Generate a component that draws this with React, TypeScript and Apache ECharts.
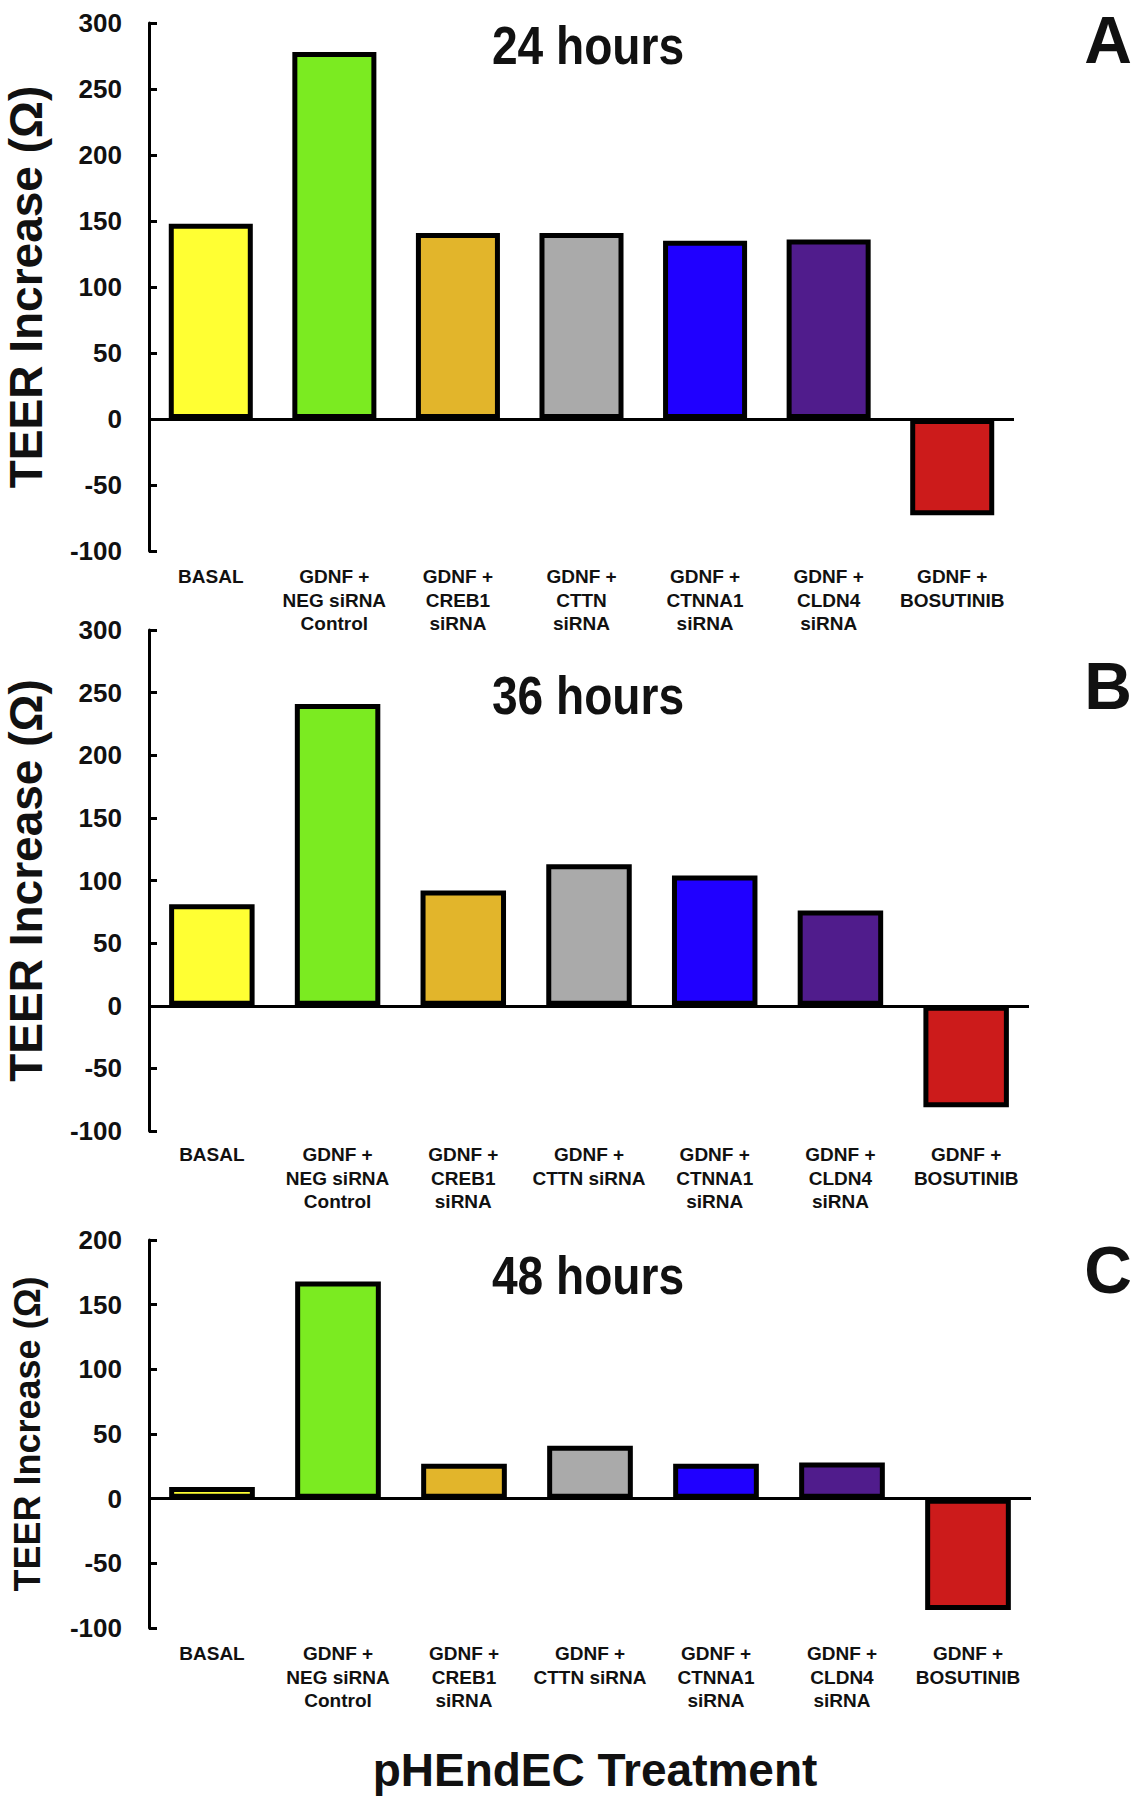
import React, { useEffect, useRef } from "react";
import * as echarts from "echarts";

const categoriesA = [
  "BASAL",
  "GDNF +\nNEG siRNA\nControl",
  "GDNF +\nCREB1\nsiRNA",
  "GDNF +\nCTTN\nsiRNA",
  "GDNF +\nCTNNA1\nsiRNA",
  "GDNF +\nCLDN4\nsiRNA",
  "GDNF +\nBOSUTINIB",
];
const categoriesBC = [
  "BASAL",
  "GDNF +\nNEG siRNA\nControl",
  "GDNF +\nCREB1\nsiRNA",
  "GDNF +\nCTTN siRNA",
  "GDNF +\nCTNNA1\nsiRNA",
  "GDNF +\nCLDN4\nsiRNA",
  "GDNF +\nBOSUTINIB",
];
const barColors = ["#FFFF33", "#7BEB21", "#E2B52B", "#AAAAAA", "#2000FF", "#501C8C", "#CC1B1B"];

const values24h = [148, 278, 141, 141, 135, 136, -73];
const values36h = [81, 241, 92, 113, 104, 76, -81];
const values48h = [9, 168, 27, 41, 27, 28, -86];

const panelTitles = ["24 hours", "36 hours", "48 hours"];
const panelLetters = ["A", "B", "C"];
const yAxisName = "TEER Increase (\u03A9)";
const xAxisName = "pHEndEC Treatment";

const SANS = "'Liberation Sans', Arial, Helvetica, sans-serif";

export default function App() {
  const ref = useRef<HTMLDivElement>(null);
  useEffect(() => {
    if (!ref.current) return;
    const chart = echarts.init(ref.current, undefined, { renderer: "svg" });

    const grids = [
      { left: 149, top: 23, width: 865, height: 528 },
      { left: 149, top: 630, width: 880, height: 501 },
      { left: 149, top: 1240, width: 882, height: 388 },
    ];
    const yRanges = [
      { min: -100, max: 300 },
      { min: -100, max: 300 },
      { min: -100, max: 200 },
    ];
    const labelMargins = [14, 12, 14];
    const nameSizes = [46, 46, 36];
    const nameGaps = [100, 100, 104];
    const cats = [categoriesA, categoriesBC, categoriesBC];
    const datas = [values24h, values36h, values48h];

    const option: any = {
      animation: false,
      backgroundColor: "#ffffff",
      grid: grids.map((g) => ({ ...g, containLabel: false, outerBoundsMode: "none" })),
      xAxis: grids.map((_, i) => ({
        type: "category",
        gridIndex: i,
        data: cats[i],
        position: "bottom",
        axisLine: { show: false, onZero: false },
        axisTick: { show: false },
        splitLine: { show: false },
        axisLabel: {
          interval: 0,
          margin: labelMargins[i],
          color: "#111",
          fontFamily: SANS,
          fontWeight: "bold",
          fontSize: 19,
          lineHeight: 23.5,
          align: "center",
        },
      })),
      yAxis: grids.map((_, i) => ({
        type: "value",
        gridIndex: i,
        min: yRanges[i].min,
        max: yRanges[i].max,
        interval: 50,
        name: yAxisName,
        nameLocation: "middle",
        nameGap: nameGaps[i],
        nameTextStyle: {
          fontFamily: SANS,
          fontWeight: "bold",
          fontSize: nameSizes[i],
          color: "#111",
        },
        axisLine: { show: true, onZero: false, lineStyle: { color: "#000", width: 3 } },
        axisTick: { show: true, inside: true, length: 8, lineStyle: { color: "#000", width: 3 } },
        splitLine: { show: false },
        axisLabel: {
          margin: 27,
          color: "#111",
          fontFamily: SANS,
          fontWeight: "bold",
          fontSize: 26,
        },
      })),
      series: datas.map((d, i) => ({
        type: "bar",
        xAxisIndex: i,
        yAxisIndex: i,
        barWidth: "68%",
        data: d.map((v, j) => ({
          value: v,
          itemStyle: { color: barColors[j], borderColor: "#000", borderWidth: 5 },
        })),
        markLine: {
          silent: true,
          symbol: ["none", "none"],
          label: { show: false },
          lineStyle: { color: "#000", width: 3, type: "solid" },
          data: [{ yAxis: 0 }],
        },
      })),
      graphic: [
        ...panelTitles.map((t, i) => ({
          type: "text",
          x: 588,
          y: [46, 696, 1276][i],
          scaleX: 0.87,
          style: {
            text: t,
            fontFamily: SANS,
            fontWeight: "bold",
            fontSize: 53,
            fill: "#111",
            textAlign: "center",
            textVerticalAlign: "middle",
          },
        })),
        ...panelLetters.map((t, i) => ({
          type: "text",
          x: 1108,
          y: [40, 686, 1270][i],
          style: {
            text: t,
            fontFamily: SANS,
            fontWeight: "bold",
            fontSize: 66,
            fill: "#111",
            textAlign: "center",
            textVerticalAlign: "middle",
          },
        })),
        {
          type: "text",
          x: 595,
          y: 1770,
          style: {
            text: xAxisName,
            fontFamily: SANS,
            fontWeight: "bold",
            fontSize: 46,
            fill: "#111",
            textAlign: "center",
            textVerticalAlign: "middle",
          },
        },
      ],
    };
    chart.setOption(option);
    return () => chart.dispose();
  }, []);
  return (
    <div
      ref={ref}
      style={{ position: "absolute", left: 0, top: 0, width: 1140, height: 1800, background: "#fff" }}
    />
  );
}
